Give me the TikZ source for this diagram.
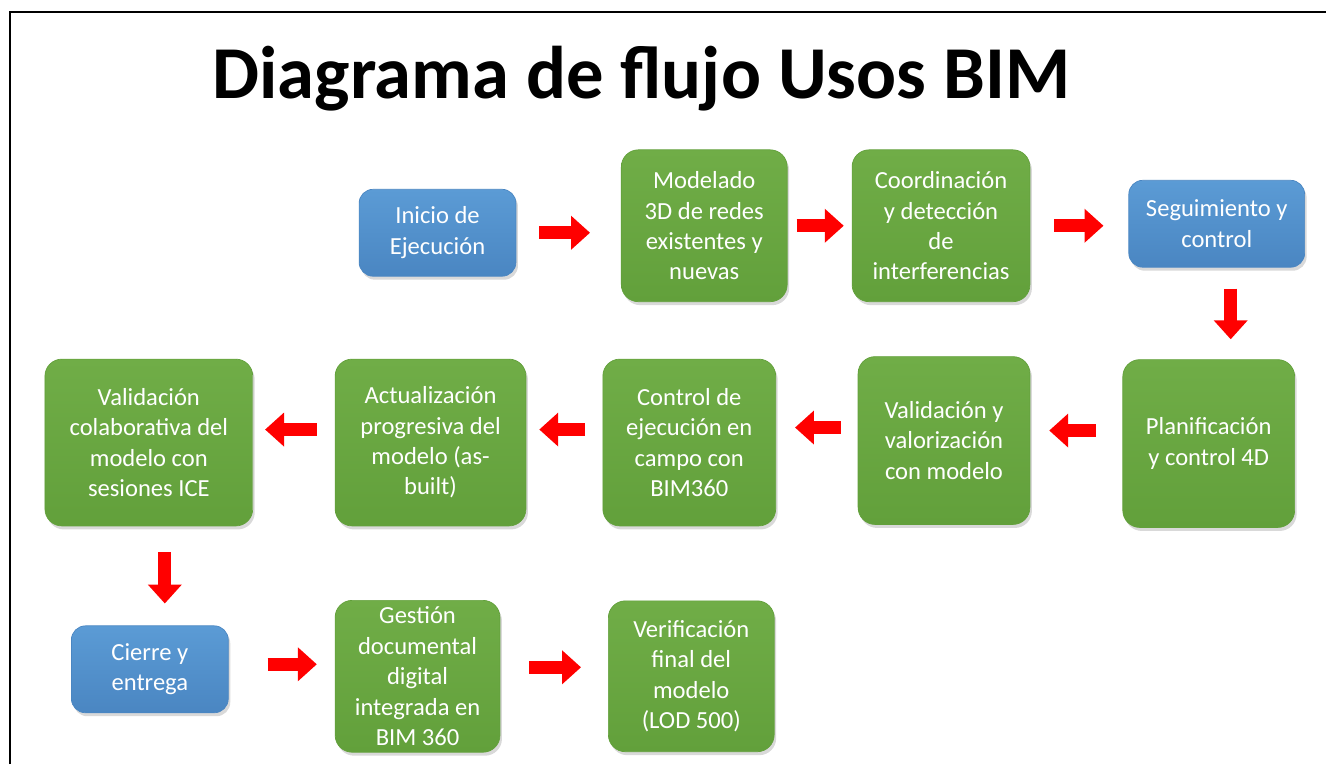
\documentclass[tikz,border=0pt]{standalone}
\usepackage{fontspec}
\setmainfont{Carlito}
\usepackage{tikz}
\usetikzlibrary{arrows.meta,shadows}
\definecolor{bimblue}{HTML}{5B9BD5}
\definecolor{bimbluedark}{HTML}{4A86C2}
\definecolor{bimgreen}{HTML}{70AD47}
\definecolor{bimgreendark}{HTML}{62A03B}
\definecolor{arrowred}{HTML}{FF0000}

\begin{document}
\begin{tikzpicture}
[
    x = 0.2mm, y = -0.2mm,
    box/.style={draw, rounded corners = 3.4mm, align = center, text = white,
        font = \fontsize{14}{17.3}\selectfont, inner sep = 1mm,
        drop shadow={shadow xshift=0.4mm, shadow yshift=-0.7mm, opacity=0.3}},
    etapa/.style={box, top color = bimblue, bottom color = bimbluedark, draw = bimbluedark,
        rounded corners = 2.8mm, minimum width = 31.4mm, minimum height = 17.4mm},
    uso/.style={box, top color = bimgreen, bottom color = bimgreendark, draw = bimgreendark},
    flecha/.style={draw = arrowred, line width = 7.4pt, -{Triangle[length = 10.8pt, width = 18.7pt]}},
    titulo/.style={font = \fontsize{42.5}{50}\selectfont\bfseries, anchor = base},
]

% frame and title
\draw[line width = 1.6pt] (10,765) -- (10,12) -- (1327,12);
\node[titulo] (title) at (642,99) {Diagrama de flujo Usos BIM};

% first row
\node[etapa] (inicio) at (438,233) {Inicio de\\Ejecución};
\node[uso, minimum width = 33.2mm, minimum height = 30.4mm] (modelado) at (705,226)
    {Modelado\\3D de redes\\existentes y\\nuevas};
\node[uso, minimum width = 35.6mm, minimum height = 30.4mm] (coordinacion) at (942,226)
    {Coordinación\\y detección\\de\\interferencias};
\node[etapa, minimum width = 35.2mm] (seguimiento) at (1218,224) {Seguimiento y\\control};

% second row
\node[uso, minimum width = 34.4mm, minimum height = 33.6mm] (planificacion) at (1210,444)
    {Planificación\\y control 4D};
\node[uso, minimum width = 34.4mm, minimum height = 33.6mm] (valorizacion) at (945,441)
    {Validación y\\valorización\\con modelo};
\node[uso, minimum width = 34.6mm, minimum height = 33.4mm] (control) at (690,443)
    {Control de\\ejecución en\\campo con\\BIM360};
\node[uso, minimum width = 38.2mm, minimum height = 33.4mm] (actualizacion) at (431,443)
    {Actualización\\progresiva del\\modelo (as-\\built)};
\node[uso, minimum width = 41.6mm, minimum height = 33.4mm] (colaborativa) at (149,443)
    {Validación\\colaborativa del\\modelo con\\sesiones ICE};

% third row
\node[etapa] (cierre) at (150,670) {Cierre y\\entrega};
\node[uso, minimum width = 33mm, minimum height = 30.4mm] (gestion) at (418,677)
    {Gestión\\documental\\digital\\integrada en\\BIM 360};
\node[uso, minimum width = 33.2mm, minimum height = 30.2mm] (verificacion) at (692,677)
    {Verificación\\final del\\modelo\\(LOD 500)};

% arrows
\draw[flecha, shorten <= 4.6mm, shorten >= 6.2mm] (inicio) -- (inicio -| modelado.west);
\draw[flecha, shorten <= 1.8mm, shorten >= 1.6mm] (modelado) -- (modelado -| coordinacion.west);
\draw[flecha, shorten <= 4.8mm, shorten >= 5mm] (coordinacion) -- (coordinacion -| seguimiento.west);
\draw[flecha, shorten <= 4.2mm, shorten >= 4mm, transform canvas = {xshift = 2.8mm}]
    (seguimiento) -- (seguimiento |- planificacion.north);
\begin{scope}[transform canvas = {yshift = 2.6mm}]
\draw[flecha, shorten <= 5.4mm, shorten >= 3.8mm] (planificacion) -- (planificacion -| valorizacion.east);
\draw[flecha, shorten <= 3.4mm, shorten >= 3.8mm] (valorizacion) -- (valorizacion -| control.east);
\draw[flecha, shorten <= 3.6mm, shorten >= 2.6mm] (control) -- (control -| actualizacion.east);
\draw[flecha, shorten <= 3.6mm, shorten >= 2.4mm] (actualizacion) -- (actualizacion -| colaborativa.east);
\end{scope}
\draw[flecha, shorten <= 5.2mm, shorten >= 4.4mm, transform canvas = {xshift = 3.2mm}]
    (colaborativa) -- (colaborativa |- cierre.north);
\draw[flecha, shorten <= 7.8mm, shorten >= 3.6mm, transform canvas = {yshift = 1mm}]
    (cierre) -- (cierre -| gestion.west);
\draw[flecha, shorten <= 5.8mm, shorten >= 5.4mm, transform canvas = {yshift = 1.8mm}]
    (gestion) -- (gestion -| verificacion.west);

\useasboundingbox (0,0) rectangle (1327,765);
\end{tikzpicture}
\end{document}
